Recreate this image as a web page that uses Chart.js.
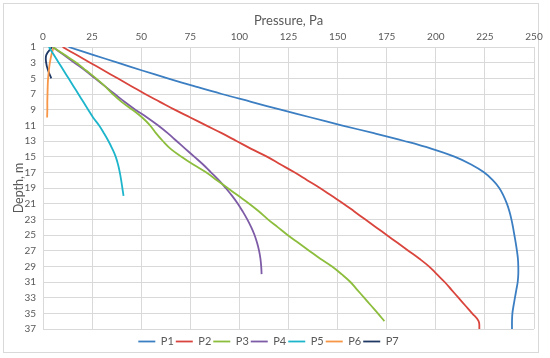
<!DOCTYPE html>
<html lang="en">
<head>
<meta charset="UTF-8">
<title>Pressure vs depth</title>
<script src="https://cdn.jsdelivr.net/npm/chart.js"></script>
<style>
    body { margin: 0; background: #fff; }
    canvas { display: block; }
</style>
</head>
<body>
<canvas id="chart" width="550" height="358"></canvas>
<script>
// depth in metres, one reading per metre
const depths = [1, 2, 3, 4, 5, 6, 7, 8, 9, 10, 11, 12, 13, 14, 15, 16, 17, 18, 19, 20,
                21, 22, 23, 24, 25, 26, 27, 28, 29, 30, 31, 32, 33, 34, 35, 36, 37];

// pressure, Pa (series stop at different depths)
const p1 = [13, 25.5, 38, 50.5, 63.5, 77, 91, 106, 121, 136.5, 152, 168.5, 184, 198, 209.5, 218, 224.5, 229, 232.3, 234.5,
            236.2, 237.5, 238.5, 239.3, 240, 240.7, 241.3, 241.8, 242, 242, 241.7, 241, 240.3, 239.6, 239, 238.8, 238.8];
const p2 = [10, 17, 24, 31, 38, 45, 52, 59.5, 67, 75, 83, 91, 98.5, 106, 114, 121, 128, 134.5, 141, 147,
            153, 158.5, 164, 169.5, 175, 180.5, 186, 191.5, 196.5, 200.5, 204.5, 208, 211.5, 215, 218.5, 221.8, 222.2];
const p3 = [5, 11, 17, 22, 27, 31.5, 35.5, 40, 45.5, 50.5, 54.5, 57.5, 61, 65, 70.5, 76.5, 83, 88.5, 94, 99.5,
            105, 110, 114.5, 119.5, 124.5, 130, 135.5, 141, 147, 152, 156.5, 160, 163.5, 167, 170.5, 173.8];
const p4 = [5, 10.5, 16, 21.5, 26.5, 31.5, 36.5, 41.5, 47, 53, 58.5, 63.5, 68, 72.5, 77, 81.5, 85.5, 89.5, 93, 96.3,
            99.2, 101.7, 104, 106, 107.7, 109, 110, 110.7, 111.1, 111.3];
const p5 = [3, 5.5, 8, 10.5, 13, 15.5, 18, 20.5, 23, 25.5, 28.5, 31, 33.3, 35.3, 37, 38.2, 39.1, 39.8, 40.4, 41];
const p6 = [5.4, 4.3, 3.5, 3.0, 2.6, 2.4, 2.3, 2.2, 2.2, 2.1];
const p7 = [4.6, 1.7, 1.6, 2.6, 4.2];

const seriesNames = ['P1', 'P2', 'P3', 'P4', 'P5', 'P6', 'P7'];
const seriesValues = [p1, p2, p3, p4, p5, p6, p7];
const colors = ['#3b7ec2', '#d9453d', '#8cbd3c', '#7d5ba6', '#1cb5cb', '#f79646', '#1f3864'];

const textColor = '#595959';
const gridColor = '#d9d9d9';
const font = 'Lato';

const datasets = seriesNames.map((name, i) => ({
    label: name,
    data: seriesValues[i].map((v, j) => ({ x: v, y: depths[j] })),
    borderColor: colors[i],
    backgroundColor: colors[i],
    borderWidth: 1.8,
    pointRadius: 0,
    tension: 0.4,
    fill: false
}));

// white background + light outer frame like the spreadsheet chart
const framePlugin = {
    id: 'frame',
    beforeDraw(chart) {
        const ctx = chart.ctx;
        ctx.save();
        ctx.fillStyle = '#fff';
        ctx.fillRect(0, 0, chart.width, chart.height);
        ctx.strokeStyle = gridColor;
        ctx.lineWidth = 1;
        ctx.strokeRect(3.5, 3.5, 535, 349);
        ctx.restore();
    }
};

new Chart(document.getElementById('chart'), {
    type: 'line',
    data: { datasets: datasets },
    options: {
        responsive: false,
        animation: false,
        layout: { padding: { left: 3, right: 16, top: 4, bottom: 1 } },
        scales: {
            x: {
                type: 'linear',
                position: 'top',
                min: 0,
                max: 250,
                ticks: { stepSize: 25, padding: 4, color: textColor, font: { family: font, size: 10 } },
                grid: { color: gridColor, drawTicks: false },
                border: { color: gridColor },
                title: {
                    display: true,
                    text: 'Pressure, Pa',
                    color: textColor,
                    font: { family: font, size: 13 },
                    padding: { top: 9, bottom: 0 }
                },
                afterFit(scale) { scale.height = 43; }
            },
            y: {
                type: 'linear',
                reverse: true,
                min: 1,
                max: 37,
                ticks: { stepSize: 2, padding: 7, color: textColor, font: { family: font, size: 10 } },
                grid: { color: gridColor, drawTicks: false },
                border: { color: gridColor },
                title: {
                    display: true,
                    text: 'Depth, m',
                    color: textColor,
                    font: { family: font, size: 12.5 },
                    padding: { top: 8, bottom: 0 }
                },
                afterFit(scale) { scale.width = 40; }
            }
        },
        plugins: {
            legend: {
                position: 'bottom',
                title: { display: true, text: '', font: { size: 4, lineHeight: 1 }, padding: { top: 1, bottom: 0 } },
                labels: {
                    usePointStyle: true,
                    pointStyle: 'line',
                    pointStyleWidth: 17,
                    padding: 2,
                    color: textColor,
                    font: { family: font, size: 11 }
                }
            },
            tooltip: { enabled: false }
        }
    },
    plugins: [framePlugin]
});
</script>
</body>
</html>
